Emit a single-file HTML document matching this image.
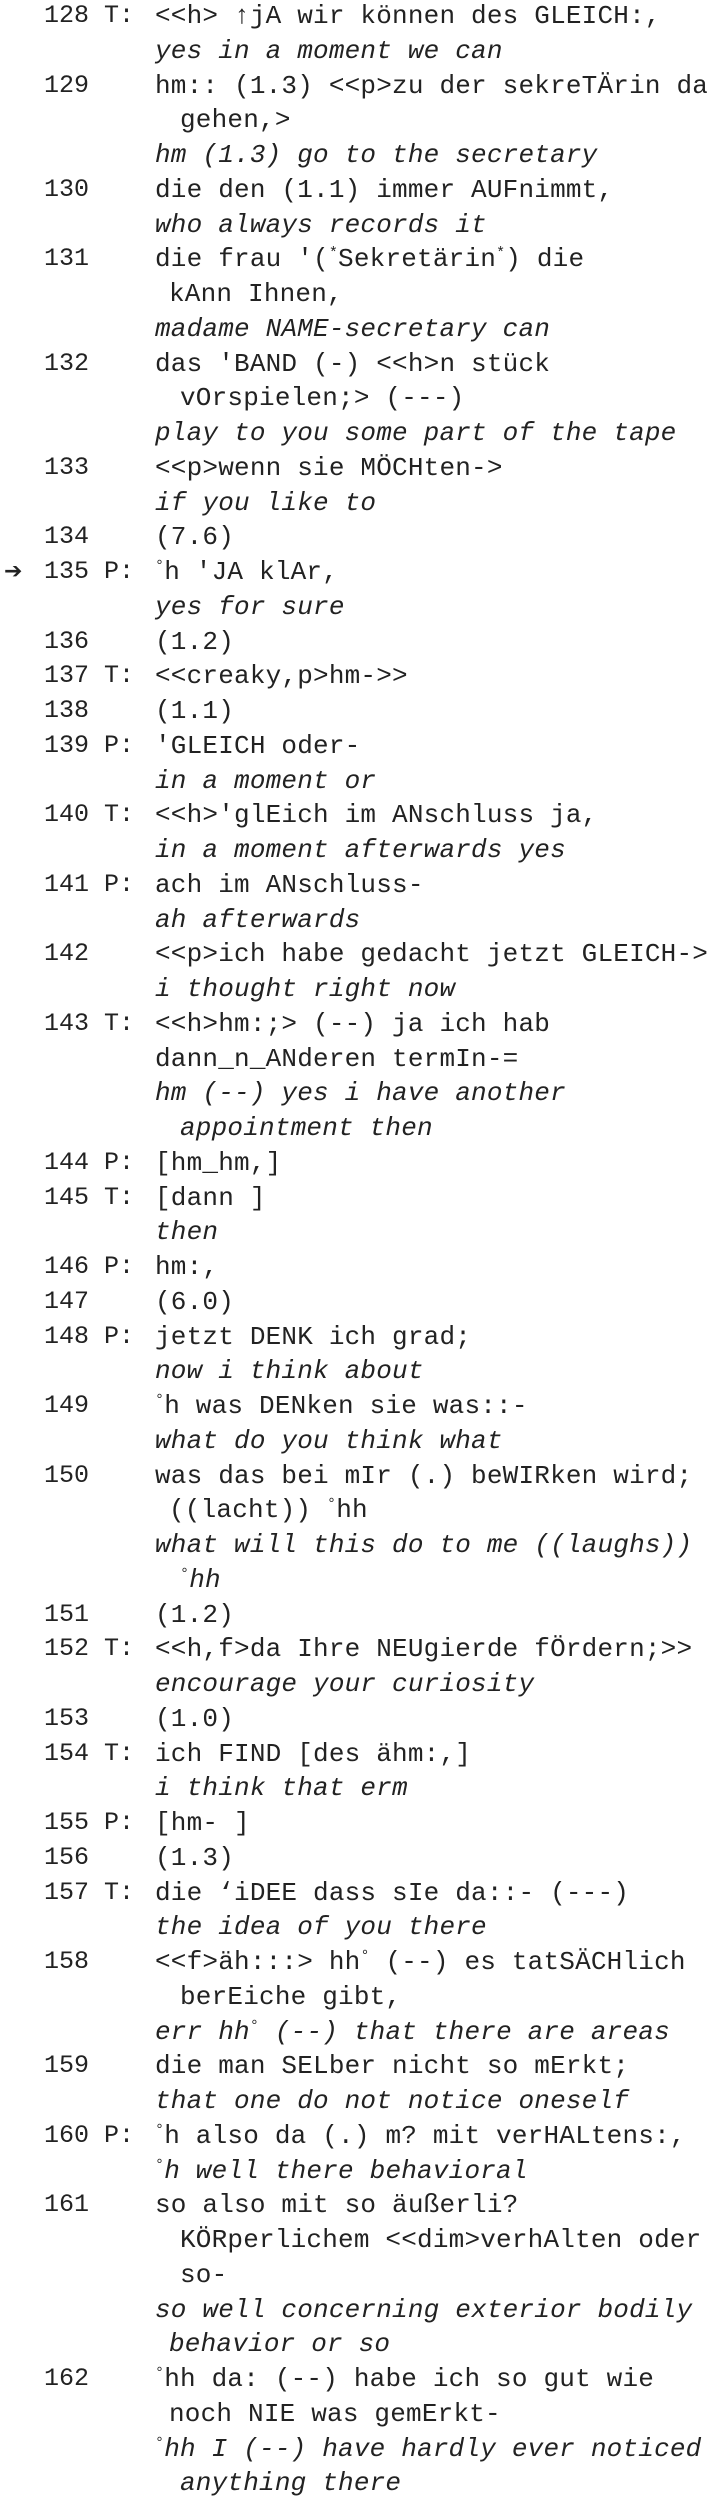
<!DOCTYPE html>
<html><head><meta charset="utf-8"><style>
html,body{margin:0;padding:0;background:#fff;}
body{width:722px;height:2500px;overflow:hidden;position:relative;font-family:"Liberation Mono",monospace;color:#222;}
#t{position:absolute;top:-1px;left:0;width:722px;}
.l{position:relative;height:34.75px;line-height:34.75px;font-size:26px;white-space:pre;}
.n{position:absolute;left:44px;font-size:25px;}
.s{position:absolute;left:104px;font-size:25px;}
.x{position:absolute;left:155px;letter-spacing:0.2px;}
.i .x{font-style:italic;}
.a .x{left:180px;}
.b .x{left:169px;}
.ar{position:absolute;left:4px;font-family:"DejaVu Sans",sans-serif;font-size:22px;font-weight:bold;}
sup{font-size:15px;vertical-align:top;line-height:24px;}
</style></head><body><div id="t">
<div class="l"><span class="n">128</span><span class="s">T:</span><span class="x">&lt;&lt;h&gt; ↑jA wir können des GLEICH:,</span></div>
<div class="l i"><span class="x">yes in a moment we can</span></div>
<div class="l"><span class="n">129</span><span class="x">hm:: (1.3) &lt;&lt;p&gt;zu der sekreTÄrin da</span></div>
<div class="l a"><span class="x">gehen,&gt;</span></div>
<div class="l i"><span class="x">hm (1.3) go to the secretary</span></div>
<div class="l"><span class="n">130</span><span class="x">die den (1.1) immer AUFnimmt,</span></div>
<div class="l i"><span class="x">who always records it</span></div>
<div class="l"><span class="n">131</span><span class="x">die frau '(<sup>*</sup>Sekretärin<sup>*</sup>) die</span></div>
<div class="l b"><span class="x">kAnn Ihnen,</span></div>
<div class="l i"><span class="x">madame NAME-secretary can</span></div>
<div class="l"><span class="n">132</span><span class="x">das 'BAND (-) &lt;&lt;h&gt;n stück</span></div>
<div class="l a"><span class="x">vOrspielen;&gt; (---)</span></div>
<div class="l i"><span class="x">play to you some part of the tape</span></div>
<div class="l"><span class="n">133</span><span class="x">&lt;&lt;p&gt;wenn sie MÖCHten-&gt;</span></div>
<div class="l i"><span class="x">if you like to</span></div>
<div class="l"><span class="n">134</span><span class="x">(7.6)</span></div>
<div class="l"><span class="ar">➔</span><span class="n">135</span><span class="s">P:</span><span class="x"><sup>°</sup>h 'JA klAr,</span></div>
<div class="l i"><span class="x">yes for sure</span></div>
<div class="l"><span class="n">136</span><span class="x">(1.2)</span></div>
<div class="l"><span class="n">137</span><span class="s">T:</span><span class="x">&lt;&lt;creaky,p&gt;hm-&gt;&gt;</span></div>
<div class="l"><span class="n">138</span><span class="x">(1.1)</span></div>
<div class="l"><span class="n">139</span><span class="s">P:</span><span class="x">'GLEICH oder-</span></div>
<div class="l i"><span class="x">in a moment or</span></div>
<div class="l"><span class="n">140</span><span class="s">T:</span><span class="x">&lt;&lt;h&gt;'glEich im ANschluss ja,</span></div>
<div class="l i"><span class="x">in a moment afterwards yes</span></div>
<div class="l"><span class="n">141</span><span class="s">P:</span><span class="x">ach im ANschluss-</span></div>
<div class="l i"><span class="x">ah afterwards</span></div>
<div class="l"><span class="n">142</span><span class="x">&lt;&lt;p&gt;ich habe gedacht jetzt GLEICH-&gt;</span></div>
<div class="l i"><span class="x">i thought right now</span></div>
<div class="l"><span class="n">143</span><span class="s">T:</span><span class="x">&lt;&lt;h&gt;hm:;&gt; (--) ja ich hab</span></div>
<div class="l"><span class="x">dann_n_ANderen termIn-=</span></div>
<div class="l i"><span class="x">hm (--) yes i have another</span></div>
<div class="l i a"><span class="x">appointment then</span></div>
<div class="l"><span class="n">144</span><span class="s">P:</span><span class="x">[hm_hm,]</span></div>
<div class="l"><span class="n">145</span><span class="s">T:</span><span class="x">[dann ]</span></div>
<div class="l i"><span class="x">then</span></div>
<div class="l"><span class="n">146</span><span class="s">P:</span><span class="x">hm:,</span></div>
<div class="l"><span class="n">147</span><span class="x">(6.0)</span></div>
<div class="l"><span class="n">148</span><span class="s">P:</span><span class="x">jetzt DENK ich grad;</span></div>
<div class="l i"><span class="x">now i think about</span></div>
<div class="l"><span class="n">149</span><span class="x"><sup>°</sup>h was DENken sie was::-</span></div>
<div class="l i"><span class="x">what do you think what</span></div>
<div class="l"><span class="n">150</span><span class="x">was das bei mIr (.) beWIRken wird;</span></div>
<div class="l b"><span class="x">((lacht)) <sup>°</sup>hh</span></div>
<div class="l i"><span class="x">what will this do to me ((laughs))</span></div>
<div class="l i a"><span class="x"><sup>°</sup>hh</span></div>
<div class="l"><span class="n">151</span><span class="x">(1.2)</span></div>
<div class="l"><span class="n">152</span><span class="s">T:</span><span class="x">&lt;&lt;h,f&gt;da Ihre NEUgierde fÖrdern;&gt;&gt;</span></div>
<div class="l i"><span class="x">encourage your curiosity</span></div>
<div class="l"><span class="n">153</span><span class="x">(1.0)</span></div>
<div class="l"><span class="n">154</span><span class="s">T:</span><span class="x">ich FIND [des ähm:,]</span></div>
<div class="l i"><span class="x">i think that erm</span></div>
<div class="l"><span class="n">155</span><span class="s">P:</span><span class="x">[hm- ]</span></div>
<div class="l"><span class="n">156</span><span class="x">(1.3)</span></div>
<div class="l"><span class="n">157</span><span class="s">T:</span><span class="x">die ‘iDEE dass sIe da::- (---)</span></div>
<div class="l i"><span class="x">the idea of you there</span></div>
<div class="l"><span class="n">158</span><span class="x">&lt;&lt;f&gt;äh:::&gt; hh<sup>°</sup> (--) es tatSÄCHlich</span></div>
<div class="l a"><span class="x">berEiche gibt,</span></div>
<div class="l i"><span class="x">err hh<sup>°</sup> (--) that there are areas</span></div>
<div class="l"><span class="n">159</span><span class="x">die man SELber nicht so mErkt;</span></div>
<div class="l i"><span class="x">that one do not notice oneself</span></div>
<div class="l"><span class="n">160</span><span class="s">P:</span><span class="x"><sup>°</sup>h also da (.) m? mit verHALtens:,</span></div>
<div class="l i"><span class="x"><sup>°</sup>h well there behavioral</span></div>
<div class="l"><span class="n">161</span><span class="x">so also mit so äußerli?</span></div>
<div class="l a"><span class="x">KÖRperlichem &lt;&lt;dim&gt;verhAlten oder</span></div>
<div class="l a"><span class="x">so-</span></div>
<div class="l i"><span class="x">so well concerning exterior bodily</span></div>
<div class="l i b"><span class="x">behavior or so</span></div>
<div class="l"><span class="n">162</span><span class="x"><sup>°</sup>hh da: (--) habe ich so gut wie</span></div>
<div class="l b"><span class="x">noch NIE was gemErkt-</span></div>
<div class="l i"><span class="x"><sup>°</sup>hh I (--) have hardly ever noticed</span></div>
<div class="l i a"><span class="x">anything there</span></div>
</div></body></html>
